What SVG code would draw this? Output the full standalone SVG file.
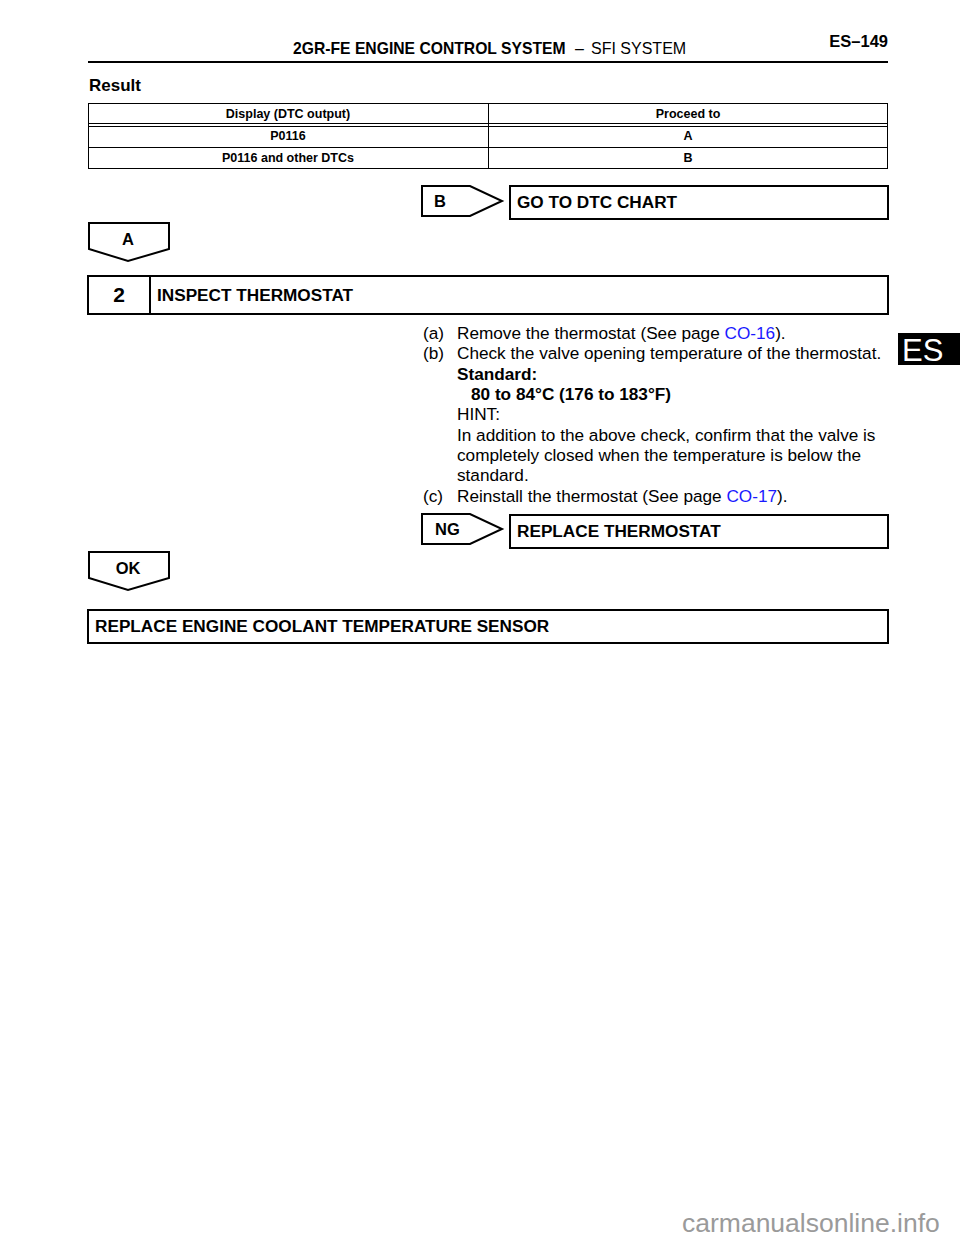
<svg xmlns="http://www.w3.org/2000/svg" width="960" height="1242" viewBox="0 0 960 1242">
<style>
text{font-family:"Liberation Sans",Arial,sans-serif;fill:#000}
.b{font-weight:bold}
.th{font-size:12.5px;font-weight:bold;text-anchor:middle}
.body{font-size:17.2px}
.box{fill:#fff;stroke:#000;stroke-width:2}
.tbl{fill:none;stroke:#000;stroke-width:1}
.bt{font-size:17.2px;font-weight:bold}
.lbl{font-size:16.5px;font-weight:bold}
.lk{fill:#1a1aff}
</style>
<rect width="960" height="1242" fill="#fff"/>
<g id="header">
<text x="293" y="54" font-size="15.7" class="b">2GR-FE ENGINE CONTROL SYSTEM</text>
<text x="575" y="54" font-size="16">–</text>
<text x="591" y="54" font-size="16">SFI SYSTEM</text>
<text x="888" y="47" font-size="16.5" class="b" text-anchor="end">ES–149</text>
<line x1="88" y1="62" x2="888" y2="62" stroke="#000" stroke-width="2"/>
</g>
<g id="es-tab">
<rect x="898" y="333" width="62" height="32" fill="#000"/>
<text x="902" y="361" font-size="31" style="fill:#fff">ES</text>
</g>
<text x="89" y="91" font-size="17" class="b">Result</text>
<g id="table">
<rect x="88.5" y="103.5" width="799" height="65" class="tbl"/>
<line x1="88" y1="123.5" x2="888" y2="123.5" class="tbl"/>
<line x1="88" y1="126.5" x2="888" y2="126.5" class="tbl"/>
<line x1="88" y1="147.5" x2="888" y2="147.5" class="tbl"/>
<line x1="488.5" y1="103" x2="488.5" y2="169" class="tbl"/>
<text x="288" y="118" class="th">Display (DTC output)</text>
<text x="688" y="118" class="th">Proceed to</text>
<text x="288" y="140" class="th">P0116</text>
<text x="688" y="140" class="th">A</text>
<text x="288" y="162" class="th">P0116 and other DTCs</text>
<text x="688" y="162" class="th">B</text>
</g>
<g id="connectors">
<polygon id="arrow-b" points="422,186 470,186 502,201 470,216 422,216" class="box"/>
<polygon id="arrow-a" points="89,223 169,223 169,249 128,261 89,249" class="box"/>
<polygon id="arrow-ng" points="422,514 470,514 502,529 470,544 422,544" class="box"/>
<polygon id="arrow-ok" points="89,552 169,552 169,578 128,590 89,578" class="box"/>
<text x="434" y="207" class="lbl">B</text>
<text x="128" y="245" class="lbl" text-anchor="middle">A</text>
<text x="435" y="535" class="lbl">NG</text>
<text x="128" y="574" class="lbl" text-anchor="middle">OK</text>
</g>
<g id="node-goto-dtc">
<rect x="510" y="186" width="378" height="33" class="box"/>
<text x="517" y="208" class="bt">GO TO DTC CHART</text>
</g>
<g id="node-step2">
<rect x="88" y="276" width="800" height="38" class="box"/>
<line x1="150" y1="276" x2="150" y2="314" stroke="#000" stroke-width="2"/>
<text x="119" y="302" font-size="21" class="b" text-anchor="middle">2</text>
<text x="157" y="301" class="bt">INSPECT THERMOSTAT</text>
</g>
<g id="step2-text">
<text x="423" y="339" class="body">(a)</text>
<text x="457" y="339" class="body">Remove the thermostat (See page <tspan class="lk">CO-16</tspan>).</text>
<text x="423" y="359" class="body">(b)</text>
<text x="457" y="359" class="body">Check the valve opening temperature of the thermostat.</text>
<text x="457" y="380" class="bt">Standard:</text>
<text x="471" y="400" class="bt">80 to 84°C (176 to 183°F)</text>
<text x="457" y="420" class="body">HINT:</text>
<text x="457" y="441" class="body">In addition to the above check, confirm that the valve is</text>
<text x="457" y="461" class="body">completely closed when the temperature is below the</text>
<text x="457" y="481" class="body">standard.</text>
<text x="423" y="502" class="body">(c)</text>
<text x="457" y="502" class="body">Reinstall the thermostat (See page <tspan class="lk">CO-17</tspan>).</text>
</g>
<g id="node-replace-thermostat">
<rect x="510" y="515" width="378" height="33" class="box"/>
<text x="517" y="537" class="bt">REPLACE THERMOSTAT</text>
</g>
<g id="node-replace-ect">
<rect x="88" y="610" width="800" height="33" class="box"/>
<text x="95" y="632" class="bt">REPLACE ENGINE COOLANT TEMPERATURE SENSOR</text>
</g>
<text x="682" y="1232" font-size="26.5" style="fill:#9a9a9a">carmanualsonline.info</text>
</svg>
